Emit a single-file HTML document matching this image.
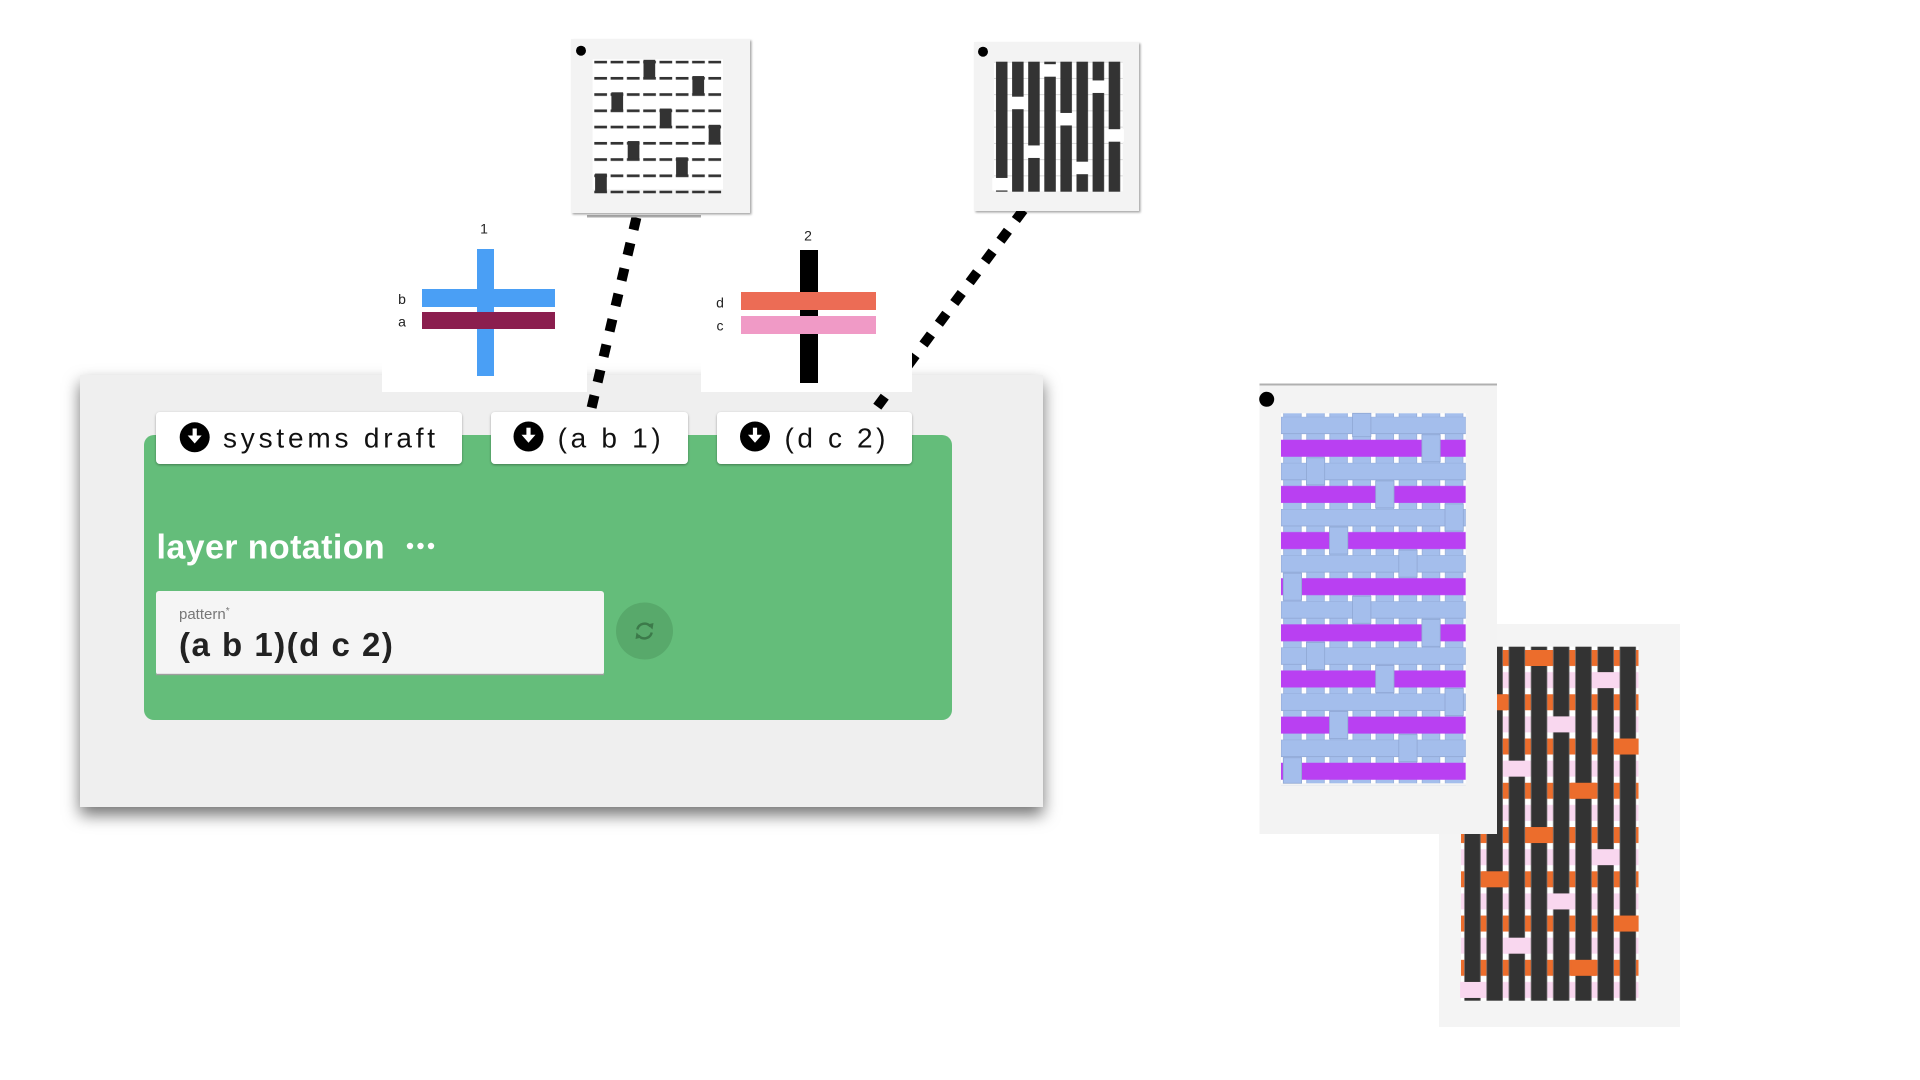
<!DOCTYPE html>
<html><head><meta charset="utf-8"><style>
html,body{margin:0;padding:0;background:#fff;}
svg{display:block;}
</style></head><body>
<svg width="1920" height="1080" viewBox="0 0 1920 1080" xmlns="http://www.w3.org/2000/svg" font-family="Liberation Sans, Arial, sans-serif">
<defs>
<filter id="ps" x="-10%" y="-15%" width="120%" height="135%"><feDropShadow dx="0" dy="8" stdDeviation="8" flood-color="#000" flood-opacity="0.55"/></filter>
<filter id="bs" x="-10%" y="-30%" width="120%" height="170%"><feDropShadow dx="0" dy="1" stdDeviation="1.2" flood-color="#000" flood-opacity="0.35"/></filter>
<filter id="cs" x="-10%" y="-10%" width="120%" height="120%"><feDropShadow dx="1.5" dy="1.5" stdDeviation="1" flood-color="#000" flood-opacity="0.35"/></filter>
<pattern id="c1d" x="592.6" y="60.7" width="16.3" height="16.25" patternUnits="userSpaceOnUse"><rect x="1.7" y="0" width="12.7" height="2.7" fill="#333"/></pattern>
<pattern id="c2b" x="994" y="61.7" width="16.1" height="300" patternUnits="userSpaceOnUse"><rect x="2" y="0" width="11.5" height="300" fill="#333"/></pattern>
<pattern id="c2l" x="994" y="61.7" width="300" height="16.25" patternUnits="userSpaceOnUse"><rect x="0" y="0" width="300" height="0.8" fill="#d0d0d0"/></pattern>
<pattern id="aw" x="1281" y="413.3" width="23.1" height="500" patternUnits="userSpaceOnUse"><rect x="2.3" y="0" width="18.3" height="500" fill="#A4BEEC"/><rect x="2.3" y="0" width="0.7" height="500" fill="#93aad6"/><rect x="19.9" y="0" width="0.7" height="500" fill="#93aad6"/></pattern>
<pattern id="awf" x="1281" y="416.7" width="400" height="46.14" patternUnits="userSpaceOnUse"><rect x="0" y="0" width="184.8" height="17" fill="#A4BEEC" stroke="#8fa7d4" stroke-width="0.8"/><rect x="0" y="23.07" width="184.8" height="17" fill="#B940F2"/></pattern>
<pattern id="bw" x="1461" y="650" width="400" height="44.26" patternUnits="userSpaceOnUse"><rect x="0" y="0" width="177.6" height="16" fill="#EC6D2C"/><rect x="0" y="22.13" width="177.6" height="16" fill="#F9D7EF"/></pattern>
<pattern id="bb" x="1461" y="646.7" width="22.2" height="500" patternUnits="userSpaceOnUse"><rect x="3.3" y="0" width="16.3" height="500" fill="#333"/><rect x="3.3" y="0" width="0.6" height="500" fill="#777"/><rect x="19" y="0" width="0.6" height="500" fill="#777"/></pattern>
</defs>

<!-- main panel -->
<rect x="80" y="375" width="963" height="432" fill="#efefef" filter="url(#ps)"/>
<rect x="144" y="435" width="808" height="285" rx="10" fill="#64BD7A"/>

<!-- connectors -->
<line x1="636.4" y1="217.6" x2="591.6" y2="407.6" stroke="#000" stroke-width="10" stroke-dasharray="12.5 13.6"/>
<line x1="1023.3" y1="210" x2="877.3" y2="406.7" stroke="#000" stroke-width="10" stroke-dasharray="12.5 13.33"/>

<!-- white boxes behind crosses -->
<rect x="382" y="218" width="205" height="174" fill="#fff"/>
<rect x="701" y="222" width="211" height="170" fill="#fff"/>
<rect x="587" y="215" width="114" height="2.5" fill="#aaa"/>

<!-- cross 1 -->
<rect x="477" y="249" width="17" height="127" fill="#4A9FF5"/>
<rect x="422" y="289" width="133" height="18" fill="#4A9FF5"/>
<rect x="422" y="312" width="133" height="17" fill="#8B1E4E"/>
<text x="484" y="233.3" font-size="14" text-anchor="middle" fill="#222">1</text>
<text x="402" y="304" font-size="14" text-anchor="middle" fill="#222">b</text>
<text x="402" y="326.7" font-size="14" text-anchor="middle" fill="#222">a</text>

<!-- cross 2 -->
<rect x="800" y="250" width="18" height="133" fill="#000"/>
<rect x="741" y="292" width="135" height="18" fill="#EC6C55"/>
<rect x="741" y="316" width="135" height="18" fill="#F09AC6"/>
<text x="808" y="240.7" font-size="14" text-anchor="middle" fill="#222">2</text>
<text x="720" y="307.3" font-size="14" text-anchor="middle" fill="#222">d</text>
<text x="720" y="330.7" font-size="14" text-anchor="middle" fill="#222">c</text>

<!-- buttons -->
<rect x="156" y="412" width="306" height="52" rx="4" fill="#fff" filter="url(#bs)"/>
<rect x="491" y="412" width="197" height="52" rx="4" fill="#fff" filter="url(#bs)"/>
<rect x="717" y="412" width="195" height="52" rx="4" fill="#fff" filter="url(#bs)"/>
<g>
<circle cx="194.7" cy="437.3" r="15" fill="#000"/>
<rect x="192.6" y="428.5" width="4.2" height="8" fill="#fff"/>
<polygon points="187.7,435.5 201.7,435.5 194.7,443.5" fill="#fff"/>
<circle cx="528.5" cy="436.5" r="15" fill="#000"/>
<rect x="526.4" y="427.7" width="4.2" height="8" fill="#fff"/>
<polygon points="521.5,434.7 535.5,434.7 528.5,442.7" fill="#fff"/>
<circle cx="755" cy="436.5" r="15" fill="#000"/>
<rect x="752.9" y="427.7" width="4.2" height="8" fill="#fff"/>
<polygon points="748,434.7 762,434.7 755,442.7" fill="#fff"/>
</g>
<text x="223" y="447.3" font-size="28" fill="#111" style="letter-spacing:3.8px">systems draft</text>
<text x="557.6" y="447.3" font-size="28" fill="#111" style="letter-spacing:3.7px">(a b 1)</text>
<text x="784.5" y="447.3" font-size="28" fill="#111" style="letter-spacing:3.6px">(d c 2)</text>

<!-- layer notation -->
<text x="156.5" y="558.3" font-size="34" font-weight="bold" fill="#fff" style="letter-spacing:0.4px">layer notation</text>
<circle cx="410" cy="546" r="3.2" fill="#fff"/>
<circle cx="420.5" cy="546" r="3.2" fill="#fff"/>
<circle cx="431" cy="546" r="3.2" fill="#fff"/>

<!-- input -->
<rect x="156" y="591" width="448" height="84" rx="3" fill="#f5f5f5"/>
<rect x="156" y="673.8" width="448" height="1.4" fill="#9e9e9e"/>
<text x="179" y="619" font-size="15" fill="#777">pattern<tspan font-size="10" dy="-5">*</tspan></text>
<text x="179" y="656" font-size="33" font-weight="bold" fill="#222" style="letter-spacing:1.5px">(a b 1)(d c 2)</text>

<!-- refresh -->
<circle cx="644.5" cy="631" r="28.5" fill="#58A96B"/>
<g stroke="#3C7A4A" stroke-width="2.4" fill="none">
<path d="M637.3 629.5 A7.5 7.5 0 0 1 650.5 626.5"/>
<path d="M651.7 632.5 A7.5 7.5 0 0 1 638.5 635.5"/>
</g>
<polygon points="647.5,624.5 653.5,623 652.5,629.5" fill="#3C7A4A"/>
<polygon points="641.5,637.5 635.5,639 636.5,632.5" fill="#3C7A4A"/>

<!-- card 1 -->
<rect x="571" y="39" width="179" height="174" fill="#f3f3f3" filter="url(#cs)"/>
<circle cx="581" cy="50.7" r="5" fill="#000"/>
<rect x="592.6" y="59.3" width="130.4" height="130" fill="#fff"/>
<rect x="592.6" y="60.7" width="130.4" height="132.7" fill="url(#c1d)"/>
<g fill="#333">
<rect x="643.5" y="59.8" width="11.7" height="17.5"/>
<rect x="692.4" y="76.05" width="11.7" height="17.5"/>
<rect x="611.4" y="92.3" width="11.7" height="17.5"/>
<rect x="659.8" y="108.55" width="11.7" height="17.5"/>
<rect x="708.7" y="124.8" width="11.7" height="17.5"/>
<rect x="627.7" y="141.05" width="11.7" height="17.5"/>
<rect x="676.1" y="157.3" width="11.7" height="17.5"/>
<rect x="595.1" y="173.55" width="11.7" height="17.5"/>
</g>

<!-- card 2 -->
<rect x="974" y="42" width="165" height="169" fill="#f3f3f3" filter="url(#cs)"/>
<circle cx="983" cy="51.7" r="5" fill="#000"/>
<rect x="994" y="61.7" width="128.8" height="130" fill="#fff"/>
<rect x="994" y="61.7" width="128.8" height="130" fill="url(#c2l)"/>
<rect x="994" y="61.7" width="128.8" height="130" fill="url(#c2b)"/>
<g fill="#fff">
<rect x="1040.5" y="64.2" width="19" height="12.5"/>
<rect x="1088.8" y="80.45" width="19" height="12.5"/>
<rect x="1008.3" y="96.7" width="19" height="12.5"/>
<rect x="1056.6" y="112.95" width="19" height="12.5"/>
<rect x="1104.9" y="129.2" width="19" height="12.5"/>
<rect x="1024.4" y="145.45" width="19" height="12.5"/>
<rect x="1072.7" y="161.7" width="19" height="12.5"/>
<rect x="992.2" y="177.95" width="19" height="12.5"/>
</g>

<!-- card B (dark / orange / pink) -->
<rect x="1439" y="624" width="241" height="403" fill="#f4f4f4"/>
<rect x="1461" y="646.7" width="177.6" height="354" fill="#fff"/>
<rect x="1461" y="650" width="177.6" height="354" fill="url(#bw)"/>
<rect x="1461" y="646.7" width="177.6" height="354" fill="url(#bb)"/>
<g>
<rect x="1526.7" y="650" width="24.7" height="16" fill="#EC6D2C"/>
<rect x="1593.3" y="672.13" width="24.7" height="16" fill="#F9D7EF"/>
<rect x="1482.3" y="694.26" width="24.7" height="16" fill="#EC6D2C"/>
<rect x="1548.9" y="716.39" width="24.7" height="16" fill="#F9D7EF"/>
<rect x="1615.5" y="738.52" width="23.1" height="16" fill="#EC6D2C"/>
<rect x="1504.5" y="760.65" width="24.7" height="16" fill="#F9D7EF"/>
<rect x="1571.1" y="782.78" width="24.7" height="16" fill="#EC6D2C"/>
<rect x="1460.1" y="804.91" width="24.7" height="16" fill="#F9D7EF"/>
<rect x="1526.7" y="827.04" width="24.7" height="16" fill="#EC6D2C"/>
<rect x="1593.3" y="849.17" width="24.7" height="16" fill="#F9D7EF"/>
<rect x="1482.3" y="871.3" width="24.7" height="16" fill="#EC6D2C"/>
<rect x="1548.9" y="893.43" width="24.7" height="16" fill="#F9D7EF"/>
<rect x="1615.5" y="915.56" width="23.1" height="16" fill="#EC6D2C"/>
<rect x="1504.5" y="937.69" width="24.7" height="16" fill="#F9D7EF"/>
<rect x="1571.1" y="959.82" width="24.7" height="16" fill="#EC6D2C"/>
<rect x="1460.1" y="981.95" width="24.7" height="16" fill="#F9D7EF"/>
</g>

<!-- card A (blue / purple) -->
<rect x="1259.5" y="383.5" width="237.5" height="2" fill="#b0b0b0"/>
<rect x="1259.5" y="385.5" width="237.5" height="448.5" fill="#f3f3f3"/>
<circle cx="1266.7" cy="399.3" r="7.5" fill="#000"/>
<rect x="1281" y="413.3" width="184.8" height="370" fill="#fff"/>
<rect x="1281" y="413.3" width="184.8" height="370" fill="url(#aw)"/>
<rect x="1281" y="416.7" width="184.8" height="369.1" fill="url(#awf)"/>
<g fill="#A4BEEC" stroke="#8fa7d4" stroke-width="0.8">
<rect x="1352.6" y="413.3" width="18.3" height="23.4"/>
<rect x="1421.9" y="434.77" width="18.3" height="27"/>
<rect x="1306.4" y="457.84" width="18.3" height="27"/>
<rect x="1375.7" y="480.91" width="18.3" height="27"/>
<rect x="1445.0" y="503.98" width="18.3" height="27"/>
<rect x="1329.5" y="527.05" width="18.3" height="27"/>
<rect x="1398.8" y="550.12" width="18.3" height="27"/>
<rect x="1283.3" y="573.19" width="18.3" height="27"/>
<rect x="1352.6" y="596.26" width="18.3" height="27"/>
<rect x="1421.9" y="619.33" width="18.3" height="27"/>
<rect x="1306.4" y="642.4" width="18.3" height="27"/>
<rect x="1375.7" y="665.47" width="18.3" height="27"/>
<rect x="1445.0" y="688.54" width="18.3" height="27"/>
<rect x="1329.5" y="711.61" width="18.3" height="27"/>
<rect x="1398.8" y="734.68" width="18.3" height="27"/>
<rect x="1283.3" y="757.75" width="18.3" height="25.5"/>
</g>
</svg>
</body></html>
